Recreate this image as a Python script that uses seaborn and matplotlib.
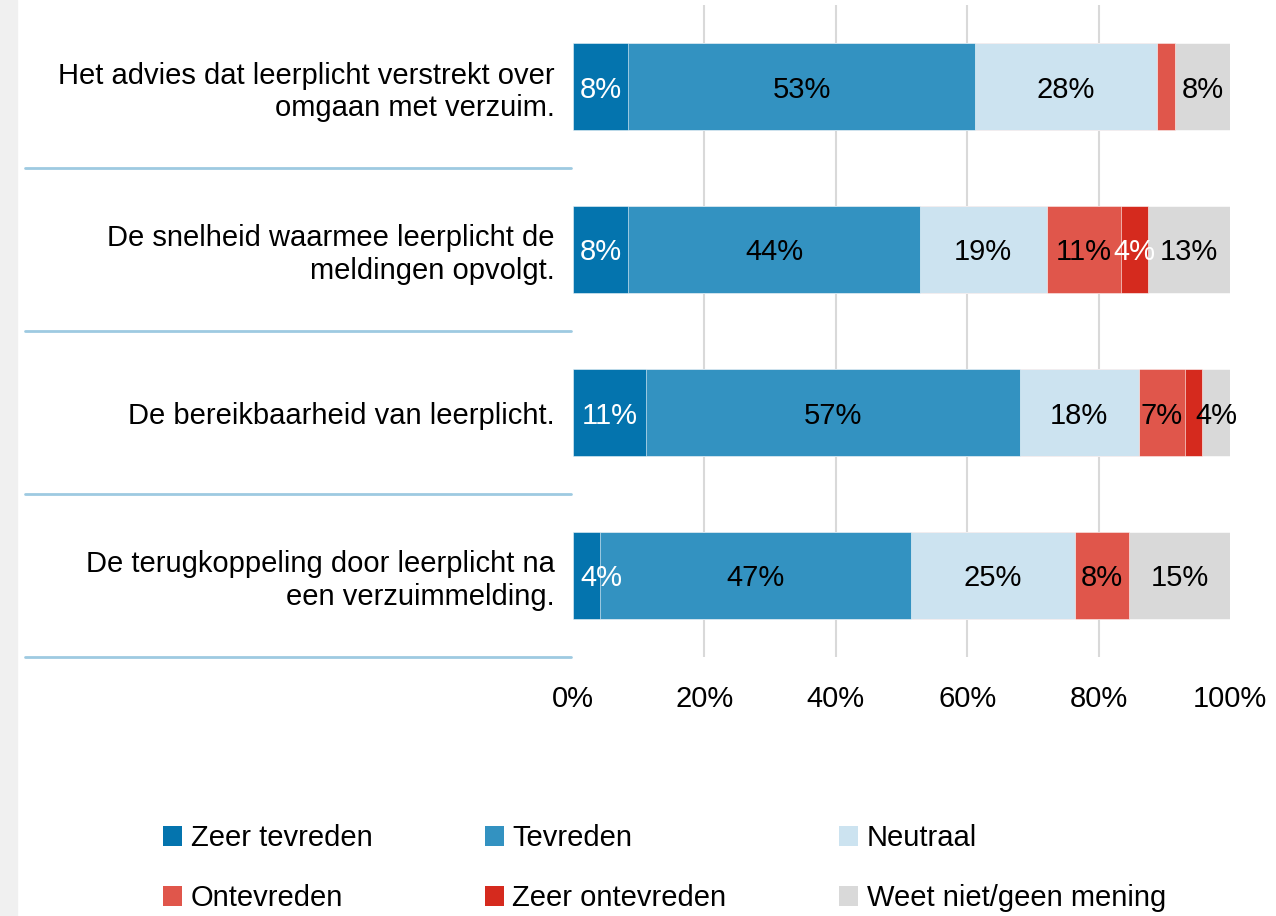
import matplotlib
matplotlib.use("Agg")
import matplotlib.pyplot as plt
from matplotlib.patches import Patch, Rectangle
import seaborn as sns
import pandas as pd
import numpy as np

# data (percentages)
categories = [
    "Het advies dat leerplicht verstrekt over\nomgaan met verzuim.",
    "De snelheid waarmee leerplicht de\nmeldingen opvolgt.",
    "De bereikbaarheid van leerplicht.",
    "De terugkoppeling door leerplicht na\neen verzuimmelding.",
]
series = ["Zeer tevreden", "Tevreden", "Neutraal", "Ontevreden", "Zeer ontevreden", "Weet niet/geen mening"]
zeer_tevreden = [8.4, 8.4, 11.1, 4.1]
tevreden = [52.8, 44.4, 56.9, 47.3]
neutraal = [27.7, 19.3, 18.1, 25.0]
ontevreden = [2.7, 11.3, 7.0, 8.2]
zeer_ontevreden = [0.0, 4.1, 2.7, 0.0]
weet_niet = [8.4, 12.6, 4.2, 15.4]

colors = ["#0474AE", "#3392C1", "#CCE3F0", "#E0564B", "#D52A1E", "#D9D9D9"]
text_colors = ["white", "black", "black", "black", "white", "black"]

sns.set_theme(style="white")
plt.rcParams["font.family"] = ["Liberation Sans", "DejaVu Sans"]
plt.rcParams["text.color"] = "black"
FS = 21

df = pd.DataFrame({
    "categorie": categories,
    series[0]: zeer_tevreden,
    series[1]: tevreden,
    series[2]: neutraal,
    series[3]: ontevreden,
    series[4]: zeer_ontevreden,
    series[5]: weet_niet,
})
cum = df[series].cumsum(axis=1)

fig = plt.figure(figsize=(12.76, 9.16), dpi=100)
fig.patches.append(Rectangle((0, 0), 17 / 1276, 1, transform=fig.transFigure,
                             color="#F0F0F0", zorder=0))
ax = fig.add_axes([573 / 1276, 1 - 657 / 916, 657 / 1276, 652 / 916])

# stacked bars: draw cumulative totals from the last series backwards
for i in range(len(series) - 1, -1, -1):
    plot_df = pd.DataFrame({"categorie": categories, "waarde": cum[series[i]]})
    sns.barplot(data=plot_df, x="waarde", y="categorie", orient="h", color=colors[i],
                width=0.53, saturation=1, ax=ax, zorder=3, order=categories,
                edgecolor="white", linewidth=0.4)

# segment labels (first label kept inside the axes)
for r in range(len(categories)):
    left = 0
    for i, s in enumerate(series):
        v = df[s].iloc[r]
        if v >= 3:
            xpos = max(left + v / 2, 4.3)
            ax.text(xpos, r, f"{round(v):.0f}%", ha="center", va="center_baseline",
                    fontsize=FS, color=text_colors[i], zorder=5)
        left += v

ax.set_xlim(0, 100)
ax.set_ylim(3.5, -0.5)
ax.set_xticks(np.arange(0, 101, 20))
ax.set_xticklabels([f"{t}%" for t in range(0, 101, 20)], fontsize=FS)
ax.tick_params(axis="x", length=0, pad=20, colors="black")
ax.tick_params(axis="y", length=0, pad=13, labelsize=FS, colors="black")
for lbl in ax.get_yticklabels():
    lbl.set_horizontalalignment("right")
ax.set_xlabel("")
ax.set_ylabel("")
for sp in ax.spines.values():
    sp.set_visible(False)
for t in [20, 40, 60, 80]:
    ax.axvline(t, color="#D9D9D9", linewidth=1.5, zorder=1)

# separator lines under each category label
for y in [0.5, 1.5, 2.5, 3.5]:
    ax.plot([-0.834, -0.003], [y, y], transform=ax.get_yaxis_transform(),
            color="#9ECAE1", linewidth=2, clip_on=False, zorder=2)

# legend, row-wise order in 3 columns
handles = [Patch(facecolor=c, edgecolor="none") for c in colors]
order = [0, 3, 1, 4, 2, 5]
fig.legend([handles[k] for k in order], [series[k] for k in order],
           ncol=3, loc="upper left", bbox_to_anchor=(163 / 1276, 1 - 824 / 916),
           frameon=False, fontsize=FS, handlelength=0.65, handleheight=0.7,
           handletextpad=0.3, columnspacing=3.85, labelspacing=1.1, borderaxespad=0,
           borderpad=0)

fig.savefig("out.png", dpi=100)
